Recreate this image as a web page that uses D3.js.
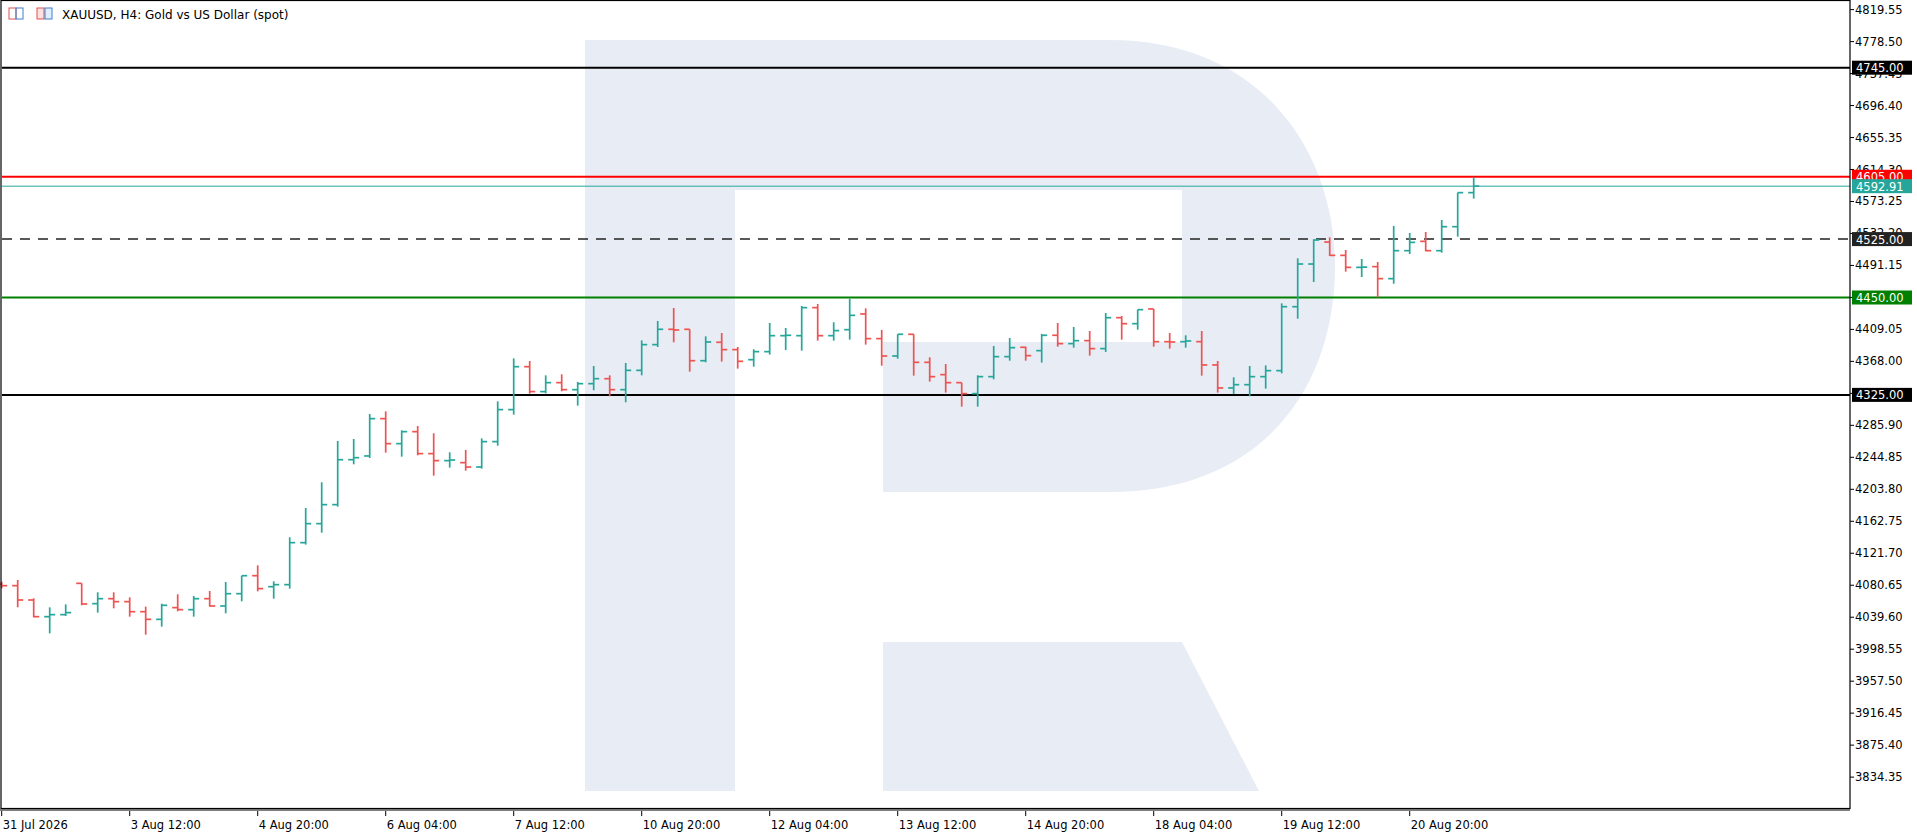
<!DOCTYPE html>
<html>
<head>
<meta charset="utf-8">
<script src="https://cdn.jsdelivr.net/npm/d3@7"></script>
<style>
  body { margin:0; background:#fff; }
  text { font-family: Tahoma, "DejaVu Sans", sans-serif; }
</style>
</head>
<body>
<svg id="chart"></svg>
<script>
// OHLC for XAUUSD H4
let opens  = [4082.2,4080.1,4061.7,4040.3,4042.9,4083.1,4057.0,4063.4,4059.6,4046.7,4036.9,4051.9,4049.3,4063.4,4054.0,4069.8,4092.9,4078.8,4081.4,4135.3,4159.7,4184.1,4241.8,4246.6,
              4294.5,4262.4,4277.8,4249.6,4240.6,4238.0,4232.4,4265.0,4306.1,4361.2,4329.2,4340.7,4331.7,4339.4,4345.8,4331.7,4356.5,4389.5,4409.2,4409.2,4368.9,4392.5,4383.1,4370.2,
              4380.5,4401.0,4401.0,4437.0,4401.0,4408.7,4428.9,4397.2,4374.9,4402.8,4366.8,4351.0,4340.7,4326.6,4348.4,4374.1,4386.1,4381.8,4401.5,4390.8,4394.6,4384.4,4424.1,4416.4,
              4435.3,4393.3,4393.3,4393.3,4363.4,4333.9,4338.1,4348.4,4356.1,4438.2,4493.0,4521.2,4504.1,4488.7,4489.6,4474.2,4510.1,4522.1,4510.1,4540.9,4584.6];
let highs  = [4085.2,4087.4,4063.9,4052.3,4056.1,4083.1,4071.6,4071.6,4065.1,4053.2,4057.0,4069.0,4066.8,4073.3,4084.8,4092.9,4106.2,4085.7,4142.2,4179.8,4212.8,4265.8,4268.4,4300.5,
              4303.9,4279.5,4285.1,4275.7,4251.3,4254.3,4269.2,4316.7,4371.9,4368.5,4350.1,4351.4,4341.6,4362.1,4350.1,4366.0,4395.0,4419.9,4436.6,4409.2,4400.2,4404.5,4386.5,4383.5,
              4417.3,4410.9,4439.1,4441.7,4418.2,4448.5,4436.1,4408.3,4402.8,4402.8,4373.2,4364.7,4340.7,4350.1,4387.8,4398.0,4386.9,4403.2,4417.3,4412.2,4407.0,4430.1,4426.3,4434.4,
              4435.3,4404.5,4401.5,4407.0,4368.5,4347.6,4362.1,4362.9,4442.5,4500.3,4524.7,4527.2,4511.0,4499.4,4495.6,4541.8,4532.8,4534.1,4549.5,4584.6,4604.2];
let lows   = [4076.7,4052.3,4039.5,4018.9,4041.2,4054.9,4045.5,4051.0,4040.3,4017.2,4027.5,4047.2,4040.3,4053.2,4044.6,4060.0,4072.8,4063.4,4076.3,4132.8,4148.1,4181.5,4235.9,4244.0,
              4250.8,4245.7,4247.4,4221.3,4231.6,4227.7,4230.3,4259.8,4299.6,4326.6,4327.0,4329.6,4311.2,4330.9,4323.2,4315.5,4350.1,4386.5,4392.5,4354.8,4366.8,4367.7,4358.7,4361.2,
              4376.7,4382.6,4381.8,4394.6,4394.6,4395.9,4389.5,4362.5,4371.5,4349.7,4342.0,4327.9,4309.9,4309.9,4345.0,4368.9,4368.9,4366.4,4386.9,4385.6,4375.4,4380.1,4395.9,4408.7,
              4386.9,4384.4,4385.6,4349.7,4327.9,4326.2,4323.2,4333.0,4352.6,4422.8,4469.9,4503.3,4483.2,4476.3,4450.2,4467.7,4505.8,4509.3,4507.5,4528.1,4576.9];
let closes = [4080.1,4061.7,4040.3,4042.9,4045.5,4056.6,4063.4,4059.6,4046.7,4036.9,4054.9,4049.3,4063.4,4054.0,4069.8,4092.9,4076.3,4081.4,4135.3,4159.7,4184.1,4241.8,4244.4,4294.5,
              4262.4,4277.8,4249.6,4240.6,4241.4,4232.4,4265.0,4306.1,4361.2,4329.2,4340.7,4331.7,4339.4,4345.8,4331.7,4356.5,4389.5,4409.2,4408.3,4368.9,4392.9,4383.1,4368.1,4380.5,
              4401.0,4401.5,4437.0,4401.0,4407.5,4427.1,4397.2,4374.9,4402.8,4366.8,4348.4,4340.7,4326.6,4348.4,4374.1,4385.6,4375.4,4401.5,4390.8,4394.6,4384.4,4424.1,4416.4,4434.4,
              4393.3,4392.9,4394.2,4363.4,4333.9,4338.1,4348.4,4356.1,4438.2,4493.0,4523.8,4504.1,4488.7,4489.0,4474.2,4510.1,4520.8,4510.1,4540.9,4584.6,4592.91];

let dateLabels = ["31 Jul 2026","3 Aug 12:00","4 Aug 20:00","6 Aug 04:00","7 Aug 12:00","10 Aug 20:00",
                  "12 Aug 04:00","13 Aug 12:00","14 Aug 20:00","18 Aug 04:00","19 Aug 12:00","20 Aug 20:00"];
let labelStep = 8; // one date label every 8 bars

let priceTicks = [4819.55,4778.50,4737.45,4696.40,4655.35,4614.30,4573.25,4532.20,4491.15,4450.10,4409.05,4368.00,
                  4326.95,4285.90,4244.85,4203.80,4162.75,4121.70,4080.65,4039.60,3998.55,3957.50,3916.45,3875.40,3834.35];

// level lines: value, colour, width, dash, label bg
let levelValues = [4745, 4605, 4525, 4450, 4325];
let levelColors = ["#000000", "#ff0000", "#222222", "#008000", "#000000"];
let lastPrice = 4592.91;

let width = 1917, height = 835;
let plot = {left:2, right:1850, top:0, bottom:808};
let upColor = "#26a69a", downColor = "#ef5350";

let svg = d3.select("#chart").attr("width", width).attr("height", height);

let x = d3.scaleLinear().domain([0, opens.length - 1]).range([1.7, 1473.7]);
let y = d3.scaleLinear().domain([3794.7, 4831.9]).range([plot.bottom, plot.top]);

// watermark logo
let logo = svg.append("g").attr("fill", "#e8edf5");
logo.append("rect").attr("x", 585).attr("y", 40).attr("width", 150).attr("height", 751);
logo.append("path").attr("d", "M735,40 H1110 C1260,40 1335,150 1335,266 C1335,390 1260,492 1110,492 H883 V342 H1182 V190 H735 Z");
logo.append("path").attr("d", "M883,642 H1182 L1259,791 H883 Z");

// level lines
levelValues.forEach(function(v, i){
  let l = svg.append("line")
      .attr("x1", plot.left).attr("x2", plot.right)
      .attr("y1", y(v)).attr("y2", y(v))
      .attr("stroke", levelColors[i])
      .attr("stroke-width", i == 2 ? 1.5 : 2);
  if (i == 2) l.attr("stroke-dasharray", "10,8");
});
svg.append("line")
    .attr("x1", plot.left).attr("x2", plot.right)
    .attr("y1", y(lastPrice)).attr("y2", y(lastPrice))
    .attr("stroke", upColor).attr("stroke-width", 1);

// bars
let bars = svg.append("g");
opens.forEach(function(o, i){
  let c = closes[i];
  let col = c >= o ? upColor : downColor;
  let cx = x(i);
  bars.append("line").attr("x1", cx).attr("x2", cx)
      .attr("y1", y(highs[i])).attr("y2", y(lows[i]))
      .attr("stroke", col).attr("stroke-width", 1.7);
  bars.append("line").attr("x1", cx - 5.5).attr("x2", cx)
      .attr("y1", y(o)).attr("y2", y(o))
      .attr("stroke", col).attr("stroke-width", 1.7);
  bars.append("line").attr("x1", cx).attr("x2", cx + 5.5)
      .attr("y1", y(c)).attr("y2", y(c))
      .attr("stroke", col).attr("stroke-width", 1.7);
});

// frame
svg.append("rect").attr("x", 1).attr("y", 0.5).attr("width", plot.right - 1).attr("height", plot.bottom)
    .attr("fill", "none").attr("stroke", "#000").attr("stroke-width", 1.2);
svg.append("line").attr("x1", 0).attr("x2", plot.right).attr("y1", plot.bottom + 2).attr("y2", plot.bottom + 2)
    .attr("stroke", "#000").attr("stroke-width", 1.2);

// price axis
priceTicks.forEach(function(p){
  svg.append("line").attr("x1", plot.right).attr("x2", plot.right + 4)
      .attr("y1", y(p)).attr("y2", y(p)).attr("stroke", "#000");
  svg.append("text").attr("x", plot.right + 5).attr("y", y(p) + 4)
      .attr("font-size", 11.5).attr("fill", "#000").text(p.toFixed(2));
});

// price boxes on axis
let boxes = levelValues.map(function(v, i){ return {v:v, c:levelColors[i]} });
boxes.push({v:lastPrice, c:upColor});
boxes.forEach(function(b){
  svg.append("rect").attr("x", plot.right + 2).attr("y", y(b.v) - 7)
      .attr("width", 60).attr("height", 14).attr("fill", b.c);
  svg.append("text").attr("x", plot.right + 6).attr("y", y(b.v) + 4.5)
      .attr("font-size", 11.5).attr("fill", "#fff").text(b.v.toFixed(2));
});

// date axis
dateLabels.forEach(function(d, k){
  let xx = x(k * labelStep);
  svg.append("line").attr("x1", xx).attr("x2", xx).attr("y1", plot.bottom + 3).attr("y2", plot.bottom + 8)
      .attr("stroke", "#000");
  svg.append("text").attr("x", xx + 1).attr("y", plot.bottom + 21)
      .attr("font-size", 11.5).attr("fill", "#000").text(d);
});

// title with small icons
let ic = svg.append("g");
ic.append("rect").attr("x", 9).attr("y", 8).attr("width", 7).attr("height", 11).attr("fill", "none").attr("stroke", "#e05050");
ic.append("rect").attr("x", 16).attr("y", 8).attr("width", 7).attr("height", 11).attr("fill", "none").attr("stroke", "#3b7fd0");
ic.append("rect").attr("x", 37).attr("y", 8).attr("width", 7).attr("height", 11).attr("fill", "#fde0e0").attr("stroke", "#e05050");
ic.append("rect").attr("x", 45).attr("y", 8).attr("width", 7).attr("height", 11).attr("fill", "#dfefff").attr("stroke", "#3b7fd0");
svg.append("text").attr("x", 62).attr("y", 19).attr("font-size", 12).attr("fill", "#000")
    .text("XAUUSD, H4:  Gold vs US Dollar (spot)");
</script>
</body>
</html>
